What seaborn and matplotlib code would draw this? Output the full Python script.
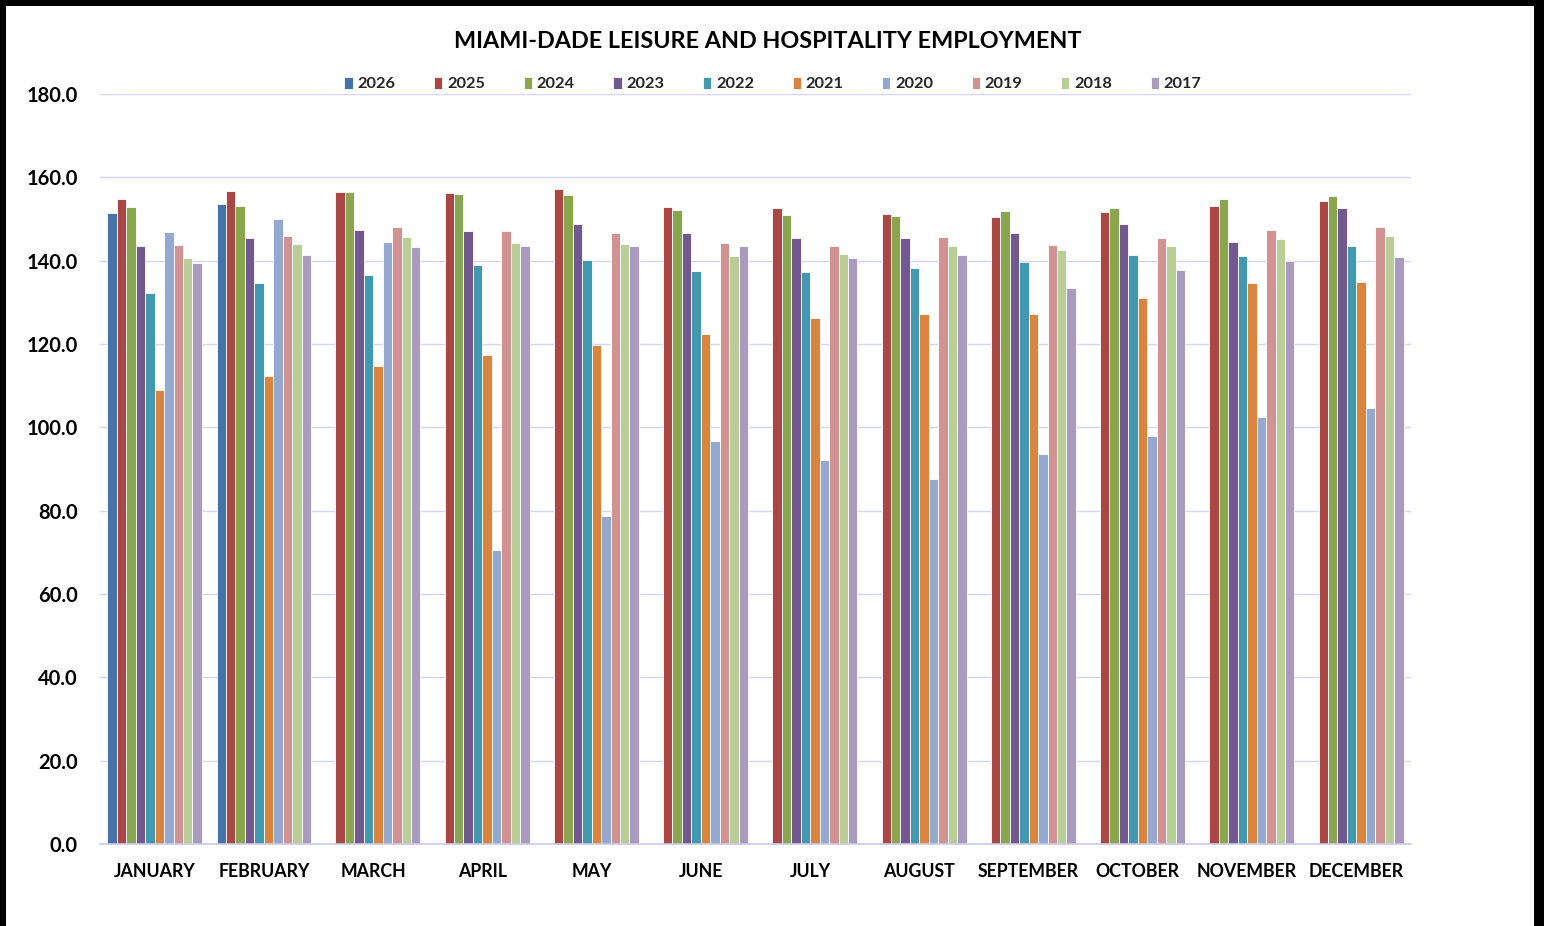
import matplotlib
matplotlib.use("Agg")
import matplotlib.pyplot as plt
import seaborn as sns
import numpy as np
import pandas as pd
from matplotlib.patches import Rectangle

months = ["JANUARY", "FEBRUARY", "MARCH", "APRIL", "MAY", "JUNE", "JULY",
          "AUGUST", "SEPTEMBER", "OCTOBER", "NOVEMBER", "DECEMBER"]
years = ["2026", "2025", "2024", "2023", "2022", "2021", "2020", "2019", "2018", "2017"]

nan = np.nan
y2026 = [151.5, 153.6, nan, nan, nan, nan, nan, nan, nan, nan, nan, nan]
y2025 = [154.9, 156.8, 156.4, 156.2, 157.2, 152.8, 152.6, 151.2, 150.4, 151.7, 153.1, 154.3]
y2024 = [153.0, 153.2, 156.6, 156.1, 155.7, 152.1, 151.0, 150.7, 151.8, 152.6, 154.7, 155.5]
y2023 = [143.6, 145.4, 147.4, 147.1, 148.7, 146.6, 145.4, 145.4, 146.6, 148.7, 144.4, 152.6]
y2022 = [132.2, 134.6, 136.5, 138.9, 140.2, 137.4, 137.2, 138.2, 139.6, 141.3, 141.1, 143.4]
y2021 = [109.0, 112.2, 114.8, 117.3, 119.8, 122.3, 126.3, 127.1, 127.3, 131.0, 134.6, 135.0]
y2020 = [146.9, 150.1, 144.4, 70.5, 78.7, 96.8, 92.1, 87.6, 93.6, 97.9, 102.5, 104.6]
y2019 = [143.7, 145.8, 148.1, 147.2, 146.6, 144.2, 143.6, 145.7, 143.7, 145.4, 147.3, 148.2]
y2018 = [140.6, 144.1, 145.6, 144.2, 143.9, 141.1, 141.5, 143.4, 142.6, 143.4, 145.1, 145.8]
y2017 = [139.4, 141.4, 143.3, 143.6, 143.4, 143.4, 140.7, 141.4, 133.4, 137.8, 140.0, 140.8]

series = [y2026, y2025, y2024, y2023, y2022, y2021, y2020, y2019, y2018, y2017]
colors = ["#4572A7", "#AA4643", "#89A54E", "#71588F", "#4198AF",
          "#DB843D", "#93A9CF", "#D19392", "#B9CD96", "#A99BBD"]
yticks = [0, 20, 40, 60, 80, 100, 120, 140, 160, 180]

rows = []
for yr, vals in zip(years, series):
    for m, v in zip(months, vals):
        rows.append({"month": m, "year": yr, "value": v})
df = pd.DataFrame(rows)

sns.set_style("white")
plt.rcParams["font.family"] = ["Lato", "DejaVu Sans"]

W, H = 1544, 926
fig = plt.figure(figsize=(W / 100, H / 100), dpi=100)
fig.patch.set_facecolor("black")
fig.patches.append(Rectangle((6 / W, 0), (1534 - 6) / W, (H - 6) / H,
                             transform=fig.transFigure, facecolor="white",
                             edgecolor="none", zorder=-5))

ax = fig.add_axes([100 / W, (H - 844) / H, (1411 - 100) / W, 750 / H])
ax.set_zorder(2)
ax.set_facecolor("none")
sns.barplot(data=df, x="month", y="value", hue="year", order=months,
            hue_order=years, palette=colors, width=0.866, ax=ax,
            edgecolor="white", linewidth=0.6, saturation=1, errorbar=None,
            legend=True)

ax.set_ylim(0, 180)
ax.set_xlim(-0.5, 11.5)
ax.set_yticks(yticks)
ax.set_yticklabels([f"{t:.1f}" for t in yticks], fontsize=14.5, fontweight="bold",
                   color="black")
ax.tick_params(axis="y", length=0, pad=16)
ax.tick_params(axis="x", length=0, pad=14)
for lbl in ax.get_xticklabels():
    lbl.set_fontsize(12.8)
    lbl.set_fontweight("bold")
    lbl.set_color("black")
ax.set_xlabel("")
ax.set_ylabel("")
ax.grid(axis="y", color="#D4D4F7", linewidth=1.0)
ax.set_axisbelow(True)
for s in ["top", "left", "right"]:
    ax.spines[s].set_visible(False)
ax.spines["bottom"].set_color("#C8C8F0")
ax.spines["bottom"].set_linewidth(1.2)

handles, labels = ax.get_legend_handles_labels()
ax.get_legend().remove()
fig.legend(handles, labels, loc="center", bbox_to_anchor=(773 / W, 1 - 84 / H),
           ncol=10, frameon=False, handlelength=0.5, handleheight=0.75,
           handletextpad=0.3, columnspacing=2.35,
           prop={"weight": "bold", "size": 11.8})

fig.text(768 / W, 1 - 41 / H, "MIAMI-DADE LEISURE AND HOSPITALITY EMPLOYMENT",
         ha="center", va="center", fontsize=16.8, fontweight="bold", color="black")

fig.savefig("out.png", dpi=100, facecolor=fig.get_facecolor())
